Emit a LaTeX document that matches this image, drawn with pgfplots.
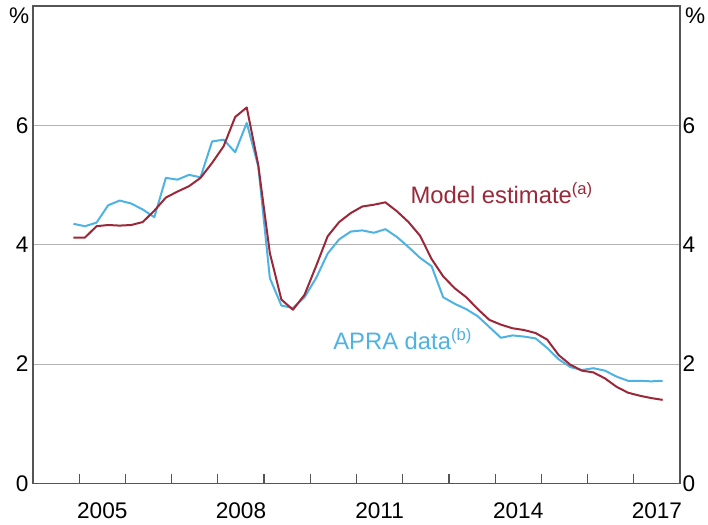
\documentclass[border=0pt]{standalone}
\usepackage{pgfplots}
\pgfplotsset{compat=1.18}
\usepackage{fontspec}
\setmainfont{Liberation Sans}
\definecolor{rbared}{RGB}{155,40,56}
\definecolor{rbablue}{RGB}{78,178,226}
\definecolor{gridgray}{RGB}{178,178,178}
\definecolor{axgray}{RGB}{85,85,85}
\pgfplotstableread{
x red blue
2004.875 4.12 4.35
2005.125 4.12 4.31
2005.375 4.31 4.37
2005.625 4.33 4.66
2005.875 4.32 4.74
2006.125 4.33 4.69
2006.375 4.38 4.59
2006.625 4.57 4.46
2006.875 4.79 5.12
2007.125 4.89 5.09
2007.375 4.98 5.17
2007.625 5.12 5.13
2007.875 5.37 5.73
2008.125 5.65 5.76
2008.375 6.14 5.55
2008.625 6.30 6.04
2008.875 5.33 5.31
2009.125 3.86 3.44
2009.375 3.08 2.98
2009.625 2.91 2.94
2009.875 3.16 3.12
2010.125 3.64 3.44
2010.375 4.14 3.85
2010.625 4.38 4.09
2010.875 4.53 4.22
2011.125 4.64 4.24
2011.375 4.67 4.20
2011.625 4.71 4.26
2011.875 4.56 4.13
2012.125 4.38 3.96
2012.375 4.15 3.78
2012.625 3.76 3.64
2012.875 3.47 3.12
2013.125 3.27 3.01
2013.375 3.12 2.92
2013.625 2.92 2.80
2013.875 2.74 2.62
2014.125 2.66 2.44
2014.375 2.60 2.48
2014.625 2.57 2.46
2014.875 2.52 2.43
2015.125 2.41 2.27
2015.375 2.15 2.08
2015.625 1.99 1.95
2015.875 1.89 1.90
2016.125 1.86 1.93
2016.375 1.76 1.89
2016.625 1.62 1.79
2016.875 1.52 1.72
2017.125 1.47 1.72
2017.375 1.43 1.71
2017.625 1.40 1.72
}\datatable
\begin{document}
\begin{tikzpicture}
\pgfplotsset{
 common/.style={
  scale only axis, width=323.5pt, height=238.7pt,
  xmin=2004, xmax=2018, ymin=0, ymax=8,
  axis line style={axgray, line width=0.65pt},
  tick label style={font=\fontsize{11.3}{13}\selectfont, text=black},
  /pgf/number format/assume math mode=true,
  ytick={0,2,4,6},
  major tick length=0pt,
  clip=false,
 }
}
\begin{axis}[common, name=ax,
  xtick={2005.5,2008.5,2011.5,2014.5,2017.5},
  xticklabels={2005,2008,2011,2014,2017},
  minor xtick={2005,2006,...,2017},
  minor tick length=4.5pt,
  tick align=inside,
  xtick pos=bottom,
  minor tick style={axgray, line width=0.6pt},
  xticklabel style={yshift=-6.3pt},
  ymajorgrids, grid style={gridgray, line width=0.5pt},
  ytick pos=left,
  yticklabel style={xshift=1.26pt},
]
\addplot[rbablue, line width=1pt, line join=round] table[x=x, y=blue] {\datatable};
\addplot[rbared, line width=1pt, line join=round] table[x=x, y=red] {\datatable};
\node[anchor=base west, text=rbared, font=\fontsize{11.9}{14}\selectfont, inner sep=0pt] at (axis cs:2012.16,4.69) {Model estimate\textsuperscript{(a)}};
\node[anchor=base west, text=rbablue, font=\fontsize{11.9}{14}\selectfont, inner sep=0pt] at (axis cs:2010.49,2.25) {APRA data\textsuperscript{(b)}};
\node[font=\fontsize{11.3}{13}\selectfont, inner sep=0pt] at (axis cs:2003.70,7.83) {\%};
\node[font=\fontsize{11.3}{13}\selectfont, inner sep=0pt] at (axis cs:2018.33,7.83) {\%};
\end{axis}
\begin{axis}[common,
  hide x axis,
  ytick pos=right,
  yticklabel pos=right,
  yticklabel style={xshift=-2.26pt},
]
\end{axis}
\pgfresetboundingbox
\path[use as bounding box] ([xshift=-16.5pt,yshift=-20.4pt]ax.south west) rectangle ([xshift=14pt,yshift=3pt]ax.north east);
\end{tikzpicture}
\end{document}
